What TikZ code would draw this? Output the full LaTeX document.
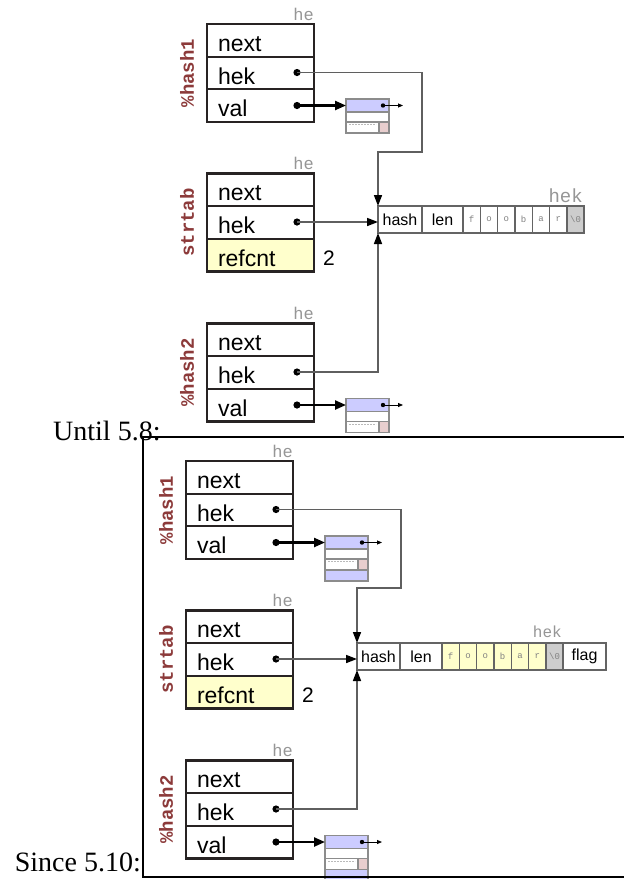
\documentclass[tikz,border=0pt]{standalone}
\usepackage{fontspec}
\setmainfont{Liberation Serif}
\setsansfont{Liberation Sans}
\setmonofont{Liberation Mono}
\usetikzlibrary{arrows.meta}

\definecolor{boxc}{RGB}{40,35,35}
\definecolor{lblred}{RGB}{140,58,58}
\definecolor{hegray}{RGB}{150,150,150}
\definecolor{linegray}{RGB}{95,95,95}
\definecolor{refyellow}{RGB}{255,255,204}
\definecolor{svblue}{RGB}{204,204,255}
\definecolor{svpink}{RGB}{232,206,206}
\definecolor{nulgray}{RGB}{205,205,205}
\definecolor{svborder}{RGB}{140,140,140}
\definecolor{hekc}{RGB}{100,100,100}
\definecolor{letgray}{RGB}{130,130,130}

\tikzset{
  herow/.style={draw=boxc, line width=2.1pt, fill=white, anchor=north west,
    minimum width=107pt, minimum height=32.67pt, text width=85pt,
    inner xsep=11pt, inner ysep=0pt, outer sep=0pt, align=left,
    text height=25pt, text depth=3pt,
    font={\sffamily\fontsize{23}{26}\selectfont}},
  helbl/.style={anchor=base east, text=hegray, inner sep=0pt,
    font={\ttfamily\fontsize{17}{18}\selectfont}},
  namelbl/.style={rotate=90, text=lblred, inner sep=0pt,
    font={\ttfamily\bfseries\fontsize{19}{20}\selectfont}},
  svrow/.style={draw=svborder, line width=1.1pt, fill=white, anchor=north west,
    minimum width=43pt, inner sep=0pt, outer sep=0pt},
  hekcell/.style={draw=hekc, line width=1.3pt, fill=white, anchor=north west,
    minimum height=27pt, inner sep=0pt, outer sep=0pt,
    font={\sffamily\fontsize{16}{18}\selectfont}},
  letcell/.style={hekcell, minimum width=17.33pt, text=letgray,
    font={\ttfamily\fontsize{9}{10}\selectfont}},
  hekline/.style={draw=linegray, line width=1.6pt,
    -{Triangle[length=11pt,width=8pt,color=black]}},
  valarrow/.style={draw=black, line width=2.3pt,
    -{Triangle[length=11pt,width=9pt]}},
  ptrarrow/.style={draw=black, line width=0.8pt,
    -{Triangle[length=5pt,width=4pt]}},
  dotc/.style={fill=black},
  caption/.style={inner sep=0pt, text depth=0pt, font={\rmfamily\fontsize{28}{30}\selectfont}},
  hektitle/.style={anchor=base east, text=hegray, inner sep=0pt},
}

% he box: #1 prefix, #2 top y, #3 name label, #4 third row text, #5 third fill
\newcommand\HeBox[5]{%
  \node[herow] (#1next) at (207,#2) {next};
  \node[herow] (#1hek) at (207,#2+32.67) {hek};
  \node[herow, fill=#5] (#1third) at (207,#2+65.33) {#4};
  \node[helbl] (#1he) at (314,#2-4) {he};
  \node[namelbl] (#1name) at (187,#2+49) {#3};
  \coordinate (#1hekdot) at (297,#2+48.5);
  \fill[dotc] (#1hekdot) circle (3.6pt);
}
% value pointer + SV box: #1 prefix, #2 top y of he box
\newcommand\SVBox[2]{%
  \coordinate (#1valdot) at (297,#2+81.5);
  \fill[dotc] (#1valdot) circle (3.6pt);
  \node[svrow, fill=svblue, minimum height=13pt] (#1svA) at (346,#2+75) {};
  \node[svrow, minimum height=10pt] (#1svB) at (346,#2+88) {};
  \node[svrow, minimum height=11pt] (#1svC) at (346,#2+98) {};
  \node[svrow, fill=svpink, minimum width=10pt, minimum height=11pt] (#1svP) at (379,#2+98) {};
  \draw[svborder!60, line width=0.9pt, dash pattern=on 2pt off 1pt] (349,#2+100.5) -- (376,#2+100.5);
  \draw[valarrow] (#1valdot) -- (#1valdot -| #1svA.west);
  \coordinate (#1svdot) at (383,#2+81.5);
  \coordinate (#1svend) at (403,#2+81.5);
  \fill[dotc] (#1svdot) circle (2.2pt);
  \draw[ptrarrow] (#1svdot) -- (#1svend);
}

\begin{document}
\begin{tikzpicture}[x=1pt,y=-1pt]
\useasboundingbox (0,0) rectangle (624,879);
\clip (0,0) rectangle (624,879);
\fill[white] (0,0) rectangle (624,879);

% ===================== Until 5.8 =====================
\HeBox{Ah}{24}{\%hash1}{val}{white}
\SVBox{Ah}{24}
\HeBox{As}{173.5}{strtab}{refcnt}{refyellow}
\node[anchor=base west, inner sep=0pt, font={\sffamily\fontsize{21}{24}\selectfont}] (Acnt) at (323,265) {2};
\HeBox{Ag}{323.5}{\%hash2}{val}{white}
\SVBox{Ag}{323.5}

\node[hekcell, minimum width=44pt] (Ahash) at (378,206) {hash};
\node[hekcell, minimum width=41pt] (Alen) at (422,206) {len};
\foreach \c [count=\i from 0] in {f,o,o,b,a,r}
  \node[letcell] (Al\i) at (463+17.33*\i,206) {\c};
\node[letcell, fill=nulgray, minimum width=17pt] (Anul) at (567,206) {\textbackslash 0};
\node[hektitle, font={\ttfamily\fontsize{19}{20}\selectfont}] (Ahektitle) at (583,202) {hek};

\coordinate (Aturn) at (422,152);
\draw[hekline] (Ahhekdot) -| (Aturn) -| (Ahash.north west);
\draw[hekline] (Ashekdot) -- (Ashekdot -| Ahash.west);
\draw[hekline] (Aghekdot) -| (Ahash.south west);

% ===================== Since 5.10 =====================
\begin{scope}[shift={(-21,437)}]
\HeBox{Bh}{24}{\%hash1}{val}{white}
\SVBox{Bh}{24}
\node[svrow, fill=svblue, minimum height=11pt] (BhsvD) at (346,24+109) {};
\HeBox{Bs}{173.5}{strtab}{refcnt}{refyellow}
\node[anchor=base west, inner sep=0pt, font={\sffamily\fontsize{21}{24}\selectfont}] (Bcnt) at (323,265) {2};
\HeBox{Bg}{323.5}{\%hash2}{val}{white}
\SVBox{Bg}{323.5}
\node[svrow, fill=svblue, minimum height=11pt] (BgsvD) at (346,323.5+109) {};

\node[hekcell, minimum width=43pt] (Bhash) at (378,206) {hash};
\node[hekcell, minimum width=42pt] (Blen) at (421,206) {len};
\foreach \c [count=\i from 0] in {f,o,o,b,a,r}
  \node[letcell, fill=refyellow] (Bl\i) at (463+17.33*\i,206) {\c};
\node[letcell, fill=nulgray, minimum width=17pt] (Bnul) at (567,206) {\textbackslash 0};
\node[hekcell, minimum width=43pt] (Bflag) at (584,206) {flag};
\node[hektitle, font={\ttfamily\fontsize{16}{17}\selectfont}] (Bhektitle) at (583,200) {hek};

\coordinate (Bturn) at (422,151);
\draw[hekline] (Bhhekdot) -| (Bturn) -| (Bhash.north west);
\draw[hekline] (Bshekdot) -- (Bshekdot -| Bhash.west);
\draw[hekline] (Bghekdot) -| (Bhash.south west);
\end{scope}

% frame and captions
\coordinate (Ftr) at (630,437);
\coordinate (Ftl) at (143,437);
\coordinate (Fbl) at (143,877);
\coordinate (Fbr) at (630,877);
\draw[line width=2pt] (Ftr) -- (Ftl) -- (Fbl) -- (Fbr);
\node[caption, anchor=base west] (until) at (53,440) {Until 5.8:};
\node[caption, anchor=base east] (since) at (141,871) {Since 5.10:};
\end{tikzpicture}
\end{document}
